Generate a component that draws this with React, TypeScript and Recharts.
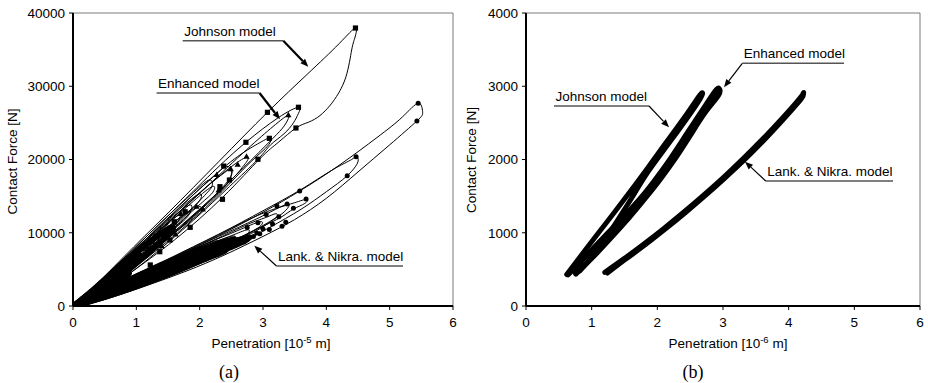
import React from 'react';
import { ComposedChart, Line, Scatter, XAxis, YAxis, ReferenceArea, ReferenceLine } from 'recharts';

type Pair = [number, number];

const SANS = '"Liberation Sans", Arial, Helvetica, sans-serif';
const SERIF = '"Liberation Serif", "Times New Roman", serif';

const xTicks = [0, 1, 2, 3, 4, 5, 6];
const yTicksA = [0, 10000, 20000, 30000, 40000];
const yTicksB = [0, 1000, 2000, 3000, 4000];

// (a) penetration [1e-5 m] vs contact force [N]; each loop = loading then unloading
const johnsonLoopsA: Pair[][] = [
  [[0, 0], [0.3, 2300], [0.8, 6700], [1.5, 12700], [2.3, 19700], [3.07, 26440], [3.7, 31650], [4.2, 35800], [4.46, 37950], [4.45, 36600], [4.4, 34950], [4.31, 31300], [4.16, 28600], [4.05, 27300], [3.9, 26000], [3.72, 25100], [3.52, 24300], [3.25, 22400], [2.95, 20100], [2.37, 14900], [1.6, 9000], [0.9, 4500], [0.4, 1600], [0, 0]],
  [[0, 0], [0.3, 2200], [0.8, 6500], [1.5, 12300], [2.2, 18200], [2.73, 22350], [3.24, 25700], [3.56, 27130], [3.56, 26300], [3.48, 25000], [3.33, 23500], [3.12, 22000], [2.92, 20030], [2.47, 16300], [1.9, 11700], [1.2, 6500], [0.6, 2700], [0, 0]],
  [[0, 0], [0.3, 2100], [0.8, 6300], [1.5, 11900], [2.1, 16800], [2.6, 20400], [2.95, 22300], [3.12, 23000], [3.11, 22300], [3.0, 21200], [2.75, 19200], [2.35, 15600], [1.8, 11100], [1.2, 6800], [0.6, 3000], [0, 0]],
  [[0, 0], [0.3, 2100], [0.8, 6200], [1.4, 11200], [1.9, 15200], [2.25, 17900], [2.42, 19050], [2.5, 18500], [2.47, 17200], [2.3, 15400], [1.9, 12200], [1.4, 8500], [0.8, 4600], [0.35, 1700], [0, 0]],
  [[0, 0], [0.3, 2150], [0.8, 6400], [1.4, 11500], [1.9, 15500], [2.15, 17200], [2.2, 16500], [2.1, 15300], [1.8, 12600], [1.3, 8600], [0.7, 4000], [0.3, 1400], [0, 0]],
  [[0, 0], [0.3, 2100], [0.8, 6300], [1.4, 11000], [1.8, 14100], [2.0, 15300], [2.02, 14700], [1.9, 13500], [1.6, 11200], [1.1, 7300], [0.6, 3400], [0.25, 1100], [0, 0]],
  [[0, 0], [0.3, 2000], [0.8, 6100], [1.3, 10100], [1.65, 12700], [1.85, 13800], [1.87, 13200], [1.8, 12300], [1.6, 10600], [1.2, 7600], [0.7, 4000], [0.3, 1400], [0, 0]],
  [[0, 0], [0.3, 2050], [0.8, 6200], [1.3, 10000], [1.65, 12300], [1.67, 11700], [1.55, 10700], [1.25, 8200], [0.85, 5000], [0.4, 1900], [0, 0]],
  [[0, 0], [0.3, 2000], [0.8, 6000], [1.2, 8900], [1.5, 10800], [1.52, 10200], [1.45, 9200], [1.2, 7200], [0.8, 4500], [0.4, 2000], [0, 0]],
  [[0, 0], [0.3, 2050], [0.8, 6000], [1.1, 8200], [1.35, 9800], [1.36, 9200], [1.25, 8300], [1.0, 6400], [0.65, 3800], [0.3, 1400], [0, 0]],
  [[0, 0], [0.3, 2000], [0.7, 5200], [1.0, 7300], [1.2, 8600], [1.22, 8000], [1.12, 7000], [0.85, 5000], [0.5, 2700], [0.2, 900], [0, 0]],
  [[0, 0], [0.3, 1900], [0.6, 4300], [0.95, 6800], [0.96, 6200], [0.8, 4900], [0.5, 2700], [0.2, 900], [0, 0]],
];

const enhancedLoopsA: Pair[][] = [
  [[0, 0], [0.3, 1900], [0.8, 5900], [1.5, 11400], [2.2, 17000], [2.8, 21800], [3.2, 24800], [3.4, 26070], [3.39, 25400], [3.3, 24200], [3.1, 22400], [2.8, 19800], [2.3, 15600], [1.7, 10800], [1.1, 6200], [0.5, 2300], [0, 0]],
  [[0, 0], [0.3, 1900], [0.8, 5800], [1.4, 10600], [2.0, 15400], [2.45, 18700], [2.74, 20330], [2.75, 19800], [2.68, 19000], [2.5, 17200], [2.1, 13900], [1.6, 10000], [1.0, 5700], [0.5, 2300], [0, 0]],
  [[0, 0], [0.3, 1900], [0.8, 5800], [1.4, 10500], [1.9, 14700], [2.3, 17600], [2.49, 18700], [2.51, 18100], [2.44, 17000], [2.2, 14800], [1.8, 11700], [1.3, 8000], [0.7, 3900], [0.3, 1300], [0, 0]],
  [[0, 0], [0.3, 1850], [0.8, 5700], [1.4, 10400], [1.9, 14300], [2.2, 16300], [2.22, 15700], [2.1, 14600], [1.8, 12300], [1.3, 8400], [0.7, 4000], [0.3, 1300], [0, 0]],
  [[0, 0], [0.3, 1800], [0.8, 5600], [1.3, 9400], [1.7, 12100], [1.99, 13560], [2.0, 13000], [1.9, 12000], [1.65, 10300], [1.2, 7200], [0.7, 3900], [0.3, 1300], [0, 0]],
  [[0, 0], [0.3, 1800], [0.8, 5600], [1.3, 9300], [1.8, 12800], [1.81, 12200], [1.65, 10900], [1.3, 8100], [0.8, 4500], [0.35, 1500], [0, 0]],
  [[0, 0], [0.3, 1800], [0.8, 5500], [1.25, 8900], [1.6, 11200], [1.61, 10600], [1.45, 9300], [1.1, 6900], [0.7, 4100], [0.3, 1400], [0, 0]],
  [[0, 0], [0.3, 1800], [0.8, 5400], [1.3, 9000], [1.31, 8400], [1.1, 6800], [0.7, 4000], [0.3, 1300], [0, 0]],
  [[0, 0], [0.3, 1800], [0.7, 4800], [1.15, 8000], [1.16, 7400], [0.95, 5800], [0.6, 3300], [0.25, 1100], [0, 0]],
  [[0, 0], [0.35, 2000], [0.7, 4600], [0.95, 6400], [0.96, 5800], [0.7, 4000], [0.4, 2000], [0, 0]],
];

const lankLoopsA: Pair[][] = [
  [[0, 0], [0.3, 900], [0.6, 2200], [0.95, 3900], [1.6, 6600], [2.3, 9600], [3.0, 12800], [3.58, 15700], [4.2, 19200], [4.8, 23000], [5.2, 25800], [5.45, 27670], [5.52, 26530], [5.43, 25260], [5.0, 22000], [4.5, 18300], [4.0, 14700], [3.5, 11800], [3.0, 9500], [2.4, 7000], [1.8, 4800], [1.2, 2900], [0.6, 1150], [0.2, 250], [0, 0]],
  [[0, 0], [0.3, 900], [0.8, 3200], [1.5, 6400], [2.3, 9800], [3.0, 13000], [3.6, 15900], [4.1, 18600], [4.4, 20000], [4.47, 20390], [4.5, 19700], [4.33, 17790], [4.0, 15600], [3.6, 13200], [3.1, 10700], [2.6, 8400], [2.0, 6000], [1.4, 3800], [0.8, 1900], [0.3, 500], [0, 0]],
  [[0, 0], [0.3, 900], [0.8, 3200], [1.5, 6300], [2.2, 9300], [2.8, 11900], [3.2, 13300], [3.5, 14100], [3.69, 14560], [3.66, 14000], [3.48, 13240], [3.3, 12200], [3.0, 10900], [2.5, 8800], [1.9, 6200], [1.3, 3900], [0.7, 1800], [0.3, 600], [0, 0]],
  [[0, 0], [0.3, 1100], [0.9, 3700], [1.6, 6700], [2.3, 9500], [2.9, 11900], [3.2, 13200], [3.39, 13930], [3.4, 13500], [3.3, 12600], [3.1, 11500], [2.8, 10000], [2.3, 7700], [1.7, 5200], [1.1, 3000], [0.5, 1100], [0, 0]],
  [[0, 0], [0.3, 1150], [0.9, 3750], [1.6, 6600], [2.3, 9300], [2.8, 11300], [3.05, 12100], [3.2, 12600], [3.22, 12200], [3.12, 11500], [2.9, 10300], [2.5, 8500], [2.0, 6300], [1.4, 4100], [0.8, 2100], [0.3, 600], [0, 0]],
  [[0, 0], [0.3, 1150], [0.9, 3700], [1.5, 6200], [2.1, 8500], [2.6, 10300], [2.95, 11500], [2.97, 11000], [2.85, 10300], [2.6, 9000], [2.2, 7200], [1.7, 5200], [1.1, 3100], [0.5, 1200], [0, 0]],
  [[0, 0], [0.3, 1200], [0.9, 3800], [1.5, 6200], [2.1, 8300], [2.5, 9600], [2.75, 10400], [2.77, 10000], [2.65, 9300], [2.4, 8200], [2.0, 6600], [1.5, 4700], [0.9, 2600], [0.4, 900], [0, 0]],
  [[0, 0], [0.3, 1200], [0.9, 3800], [1.5, 6100], [2.0, 7900], [2.5, 9500], [2.52, 9100], [2.4, 8400], [2.15, 7300], [1.7, 5600], [1.2, 3800], [0.7, 2000], [0.3, 700], [0, 0]],
  [[0, 0], [0.3, 1250], [0.9, 3900], [1.4, 5900], [1.9, 7700], [2.25, 8900], [2.27, 8500], [2.15, 7900], [1.9, 6800], [1.5, 5200], [1.0, 3400], [0.5, 1500], [0, 0]],
  [[0, 0], [0.3, 1200], [0.8, 3500], [1.3, 5500], [1.7, 7000], [2.0, 8000], [2.02, 7600], [1.9, 7000], [1.65, 6000], [1.3, 4600], [0.85, 2900], [0.4, 1200], [0, 0]],
  [[0, 0], [0.3, 1250], [0.8, 3500], [1.3, 5500], [1.75, 7100], [1.77, 6700], [1.65, 6100], [1.4, 5100], [1.0, 3600], [0.6, 2000], [0.25, 700], [0, 0]],
  [[0, 0], [0.3, 1300], [0.8, 3600], [1.2, 5100], [1.5, 6200], [1.52, 5800], [1.4, 5200], [1.15, 4200], [0.8, 2800], [0.4, 1300], [0, 0]],
  [[0, 0], [0.3, 1300], [0.7, 3100], [1.0, 4300], [1.25, 5100], [1.27, 4700], [1.15, 4200], [0.9, 3200], [0.6, 2000], [0.3, 900], [0, 0]],
  [[0, 0], [0.3, 1300], [0.65, 2800], [1.0, 4100], [1.01, 3700], [0.85, 3000], [0.6, 1900], [0.3, 800], [0, 0]],
  [[0, 0], [0.3, 1250], [0.55, 2300], [0.75, 3000], [0.76, 2700], [0.6, 2000], [0.35, 1000], [0, 0]],
];

// tightly packed low-amplitude loops that blacken the origin wedge and the Lank band
const denseLoopsA: Pair[][] = [
  [[0, 0], [0.3, 2100], [0.65, 4900], [0.9, 6700], [0.92, 6000], [0.75, 4300], [0.5, 2600], [0.2, 800], [0, 0]],
  [[0, 0], [0.35, 2200], [0.7, 4700], [1.0, 7000], [1.01, 6300], [0.85, 4700], [0.55, 2800], [0.2, 800], [0, 0]],
  [[0, 0], [0.3, 1500], [0.6, 3300], [0.85, 4500], [0.86, 4100], [0.6, 2700], [0.3, 1100], [0, 0]],
  [[0, 0], [0.4, 2700], [0.8, 5700], [1.2, 8600], [1.45, 10200], [1.47, 9600], [1.3, 8000], [0.95, 5400], [0.5, 2500], [0, 0]],
  [[0, 0], [0.5, 3600], [1.0, 7400], [1.3, 9400], [1.55, 10800], [1.57, 10200], [1.4, 8800], [1.05, 6400], [0.6, 3300], [0, 0]],
  [[0, 0], [0.4, 1700], [0.85, 3450], [1.37, 5600], [1.9, 7400], [2.4, 8850], [2.55, 9200], [2.5, 8700], [2.2, 7000], [1.8, 5300], [1.37, 3800], [0.9, 2300], [0.4, 900], [0, 0]],
  [[0, 0], [0.35, 1200], [0.8, 2900], [1.3, 4800], [1.8, 6500], [2.1, 7500], [2.15, 7200], [1.95, 6400], [1.6, 5100], [1.1, 3400], [0.6, 1700], [0.25, 600], [0, 0]],
  [[0, 0], [0.3, 1000], [0.7, 2500], [1.1, 4000], [1.5, 5500], [1.65, 5900], [1.6, 5500], [1.35, 4500], [1.0, 3200], [0.6, 1900], [0.25, 700], [0, 0]],
  [[0, 0], [0.45, 1500], [1.0, 3500], [1.6, 5700], [2.2, 7700], [2.7, 9300], [2.75, 9000], [2.5, 8000], [2.0, 6300], [1.4, 4300], [0.8, 2300], [0.3, 700], [0, 0]],
  [[0, 0], [0.4, 1300], [0.9, 3000], [1.4, 4700], [1.9, 6300], [2.35, 7800], [2.4, 7500], [2.1, 6400], [1.6, 4700], [1.1, 3000], [0.6, 1500], [0.2, 400], [0, 0]],
];

const johnsonMarksA: Pair[] = [
  [4.46, 37950], [3.07, 26440], [3.52, 24300], [3.56, 27130], [3.1, 22890], [2.73, 22350], [2.92, 20030],
  [2.38, 19100], [2.47, 17200], [2.36, 14570], [2.32, 16290], [1.77, 12870], [1.85, 10740], [1.48, 10150],
  [1.53, 9010], [1.22, 5600], [1.37, 7410], [1.1, 7900], [0.95, 6600], [1.3, 8300], [1.6, 11500],
  [0.15, 900], [0.3, 1900], [0.45, 3100], [0.6, 4200], [0.7, 5000], [0.5, 2900], [0.65, 3800], [0.82, 5900],
  [1.25, 9000], [1.42, 9700], [1.15, 7000], [1.0, 6200],
];

const enhancedMarksA: Pair[] = [
  [3.4, 26070], [2.74, 20390], [2.49, 18700], [1.95, 13560], [2.27, 17900], [2.3, 15800], [1.7, 12600],
  [1.5, 10600], [1.28, 9400], [1.05, 7200], [1.62, 9800], [2.05, 13200], [2.6, 19300], [1.4, 8200],
  [0.2, 1200], [0.35, 2100], [0.5, 3300], [0.62, 4500], [0.75, 4600], [0.88, 5200], [1.18, 7800], [1.35, 9900],
];

const lankMarksA: Pair[] = [
  [5.45, 27670], [5.43, 25260], [4.47, 20390], [4.33, 17790], [3.58, 15700], [3.68, 14600], [3.48, 13330],
  [3.38, 13930], [3.22, 13650], [3.36, 11430], [2.92, 11370], [3.05, 12500], [3.25, 12200], [3.15, 11200],
  [3.0, 10500], [2.75, 10700], [3.3, 10900],
  [0, 0], [0.12, 350], [0.22, 700], [0.3, 700], [0.45, 1350], [0.6, 1600], [0.75, 2150], [0.9, 2500],
  [1.05, 3050], [1.2, 3400], [1.35, 3950], [1.5, 4350], [1.65, 5000], [1.8, 5350], [1.95, 6000],
  [2.1, 6400], [2.25, 7100], [2.4, 7550], [2.55, 8250], [2.7, 8750], [2.85, 9500],
  [0.35, 1250], [0.5, 1800], [0.65, 2350], [0.8, 3050], [0.95, 3600], [1.1, 4350], [1.25, 4800],
  [1.4, 5500], [1.55, 5950], [1.7, 6600], [1.85, 6950], [2.0, 7550], [2.15, 7850], [2.3, 8350],
  [2.45, 8600], [2.6, 9050], [2.75, 9400], [2.9, 9950],
  [0.55, 1500], [0.7, 2300], [0.85, 2750], [1.0, 3450], [1.15, 3850], [1.3, 4500], [1.45, 4900],
  [1.6, 5550], [1.75, 5950], [1.9, 6550], [2.05, 6900], [2.2, 7500], [2.35, 7900], [2.5, 8450],
  [2.65, 8850], [2.8, 9400], [2.95, 9850], [3.1, 10450],
];

// (b) penetration [1e-6 m] vs contact force [N]
const johnsonLoopB: Pair[] = [
  [0.62, 430], [0.9, 760], [1.2, 1110], [1.5, 1460], [1.8, 1820], [2.1, 2190], [2.4, 2560], [2.6, 2820], [2.68, 2910],
  [2.66, 2840], [2.45, 2560], [2.15, 2190], [1.85, 1820], [1.6, 1460], [1.38, 1150], [1.12, 800], [0.82, 480],
];
const enhancedLoopB: Pair[] = [
  [0.64, 430], [0.9, 670], [1.2, 950], [1.5, 1230], [1.8, 1530], [2.0, 1760], [2.2, 2010], [2.45, 2350], [2.7, 2690], [2.88, 2930], [2.94, 2965],
  [2.93, 2880], [2.74, 2660], [2.5, 2330], [2.26, 2000], [2.05, 1740], [1.85, 1510], [1.58, 1220], [1.3, 940], [1.02, 670], [0.76, 440],
];
const lankLoopB: Pair[] = [
  [1.2, 460], [1.5, 650], [1.8, 850], [2.1, 1060], [2.4, 1280], [2.7, 1510], [3.0, 1750], [3.3, 2005], [3.6, 2275], [3.9, 2560], [4.2, 2870], [4.22, 2905],
  [4.2, 2840], [3.92, 2550], [3.62, 2260], [3.32, 1990], [3.02, 1740], [2.72, 1500], [2.42, 1270], [2.12, 1050], [1.82, 840], [1.52, 640], [1.24, 450],
];

type Callout = { text: string; x1: number; x2: number; y: number; fromEnd: boolean; tx: number; ty: number; w: number };

const calloutsA: Callout[] = [
  { text: 'Johnson model', x1: 1.732, x2: 3.32, y: 36220, fromEnd: true, tx: 3.715, ty: 32670, w: 2.2 },
  { text: 'Enhanced model', x1: 1.32, x2: 2.945, y: 29080, fromEnd: true, tx: 3.268, ty: 25490, w: 2.2 },
  { text: 'Lank. & Nikra. model', x1: 3.213, x2: 5.21, y: 5460, fromEnd: false, tx: 2.863, ty: 8230, w: 1.2 },
];
const calloutsB: Callout[] = [
  { text: 'Enhanced model', x1: 3.294, x2: 4.843, y: 3313, fromEnd: false, tx: 3.015, ty: 2986, w: 1.2 },
  { text: 'Johnson model', x1: 0.426, x2: 1.873, y: 2730, fromEnd: true, tx: 2.178, ty: 2440, w: 1.2 },
  { text: 'Lank. & Nikra. model', x1: 3.65, x2: 5.589, y: 1707, fromEnd: false, tx: 3.335, ty: 1970, w: 1.2 },
];

const toPts = (arr: Pair[]) => arr.map(([x, y]) => ({ x, y }));

const squareShape = (p: any) => <rect x={p.cx - 2.6} y={p.cy - 2.6} width={5.2} height={5.2} fill="#000" />;
const triangleShape = (p: any) => (
  <polygon points={`${p.cx},${p.cy - 3.4} ${p.cx + 3.1},${p.cy + 2.2} ${p.cx - 3.1},${p.cy + 2.2}`} fill="#000" />
);
const circleShape = (p: any) => <circle cx={p.cx} cy={p.cy} r={2.5} fill="#000" />;

const underlineShape = (text: string) => (p: any) => (
  <g>
    <line x1={p.x1} y1={p.y1} x2={p.x2} y2={p.y2} stroke="#555" strokeWidth={1.4} />
    <text x={p.x1 + 1.5} y={p.y1 - 5} fontFamily={SANS} fontSize={13.5} fill="#000">
      {text}
    </text>
  </g>
);

const arrowShape = (w: number) => (p: any) => {
  const ang = Math.atan2(p.y2 - p.y1, p.x2 - p.x1);
  const len = 8;
  const half = 3.2;
  const bx = p.x2 - len * Math.cos(ang);
  const by = p.y2 - len * Math.sin(ang);
  const nx = -Math.sin(ang) * half;
  const ny = Math.cos(ang) * half;
  return (
    <g>
      <line x1={p.x1} y1={p.y1} x2={bx} y2={by} stroke="#000" strokeWidth={w} />
      <polygon points={`${p.x2},${p.y2} ${bx + nx},${by + ny} ${bx - nx},${by - ny}`} fill="#000" />
    </g>
  );
};

interface PanelProps {
  left: number;
  yWidth: number;
  right: number;
  yMax: number;
  yTicks: number[];
  loops: { data: Pair[]; width: number }[];
  marks: { data: Pair[]; shape: (p: any) => React.ReactElement }[];
  callouts: Callout[];
}

function Panel({ left, yWidth, right, yMax, yTicks, loops, marks, callouts }: PanelProps) {
  const tick = { fontFamily: SANS, fontSize: 13.5, fill: '#000' };
  return (
    <div style={{ position: 'absolute', left, top: 0 }}>
      <ComposedChart width={464} height={383} margin={{ top: 13, right, bottom: 47, left: 0 }}>
        <XAxis
          type="number"
          dataKey="x"
          domain={[0, 6]}
          ticks={xTicks}
          interval={0}
          allowDataOverflow
          height={30}
          tickSize={4}
          tickMargin={7}
          tick={tick}
          axisLine={{ stroke: '#000', strokeWidth: 2 }}
          tickLine={{ stroke: '#000' }}
        />
        <YAxis
          type="number"
          dataKey="y"
          domain={[0, yMax]}
          ticks={yTicks}
          interval={0}
          allowDataOverflow
          width={yWidth}
          tickSize={4}
          tickMargin={4}
          tick={tick}
          axisLine={{ stroke: '#000', strokeWidth: 2 }}
          tickLine={{ stroke: '#000' }}
        />
        <ReferenceArea x1={0} x2={6} y1={0} y2={yMax} fill="none" stroke="#7a7a7a" strokeWidth={1} />
        {loops.map((l, i) => (
          <Line
            key={'l' + i}
            data={toPts(l.data)}
            dataKey="y"
            type="natural"
            stroke="#000"
            strokeWidth={l.width}
            strokeLinecap="round"
            strokeLinejoin="round"
            dot={false}
            activeDot={false}
            isAnimationActive={false}
          />
        ))}
        {marks.map((m, i) => (
          <Scatter key={'m' + i} data={toPts(m.data)} dataKey="y" shape={m.shape} isAnimationActive={false} />
        ))}
        {callouts.map((c, i) => (
          <ReferenceLine
            key={'u' + i}
            segment={[{ x: c.x1, y: c.y }, { x: c.x2, y: c.y }]}
            shape={underlineShape(c.text)}
            ifOverflow="visible"
          />
        ))}
        {callouts.map((c, i) => (
          <ReferenceLine
            key={'a' + i}
            segment={[{ x: c.fromEnd ? c.x2 : c.x1, y: c.y }, { x: c.tx, y: c.ty }]}
            shape={arrowShape(c.w)}
            ifOverflow="visible"
          />
        ))}
      </ComposedChart>
    </div>
  );
}

export default function App() {
  const loopsA = [
    ...denseLoopsA.map((d) => ({ data: d, width: 5 })),
    ...johnsonLoopsA.map((d) => ({ data: d, width: 1 })),
    ...enhancedLoopsA.map((d) => ({ data: d, width: 1 })),
    ...lankLoopsA.map((d) => ({ data: d, width: 1 })),
  ];
  const loopsB = [
    { data: johnsonLoopB, width: 5 },
    { data: enhancedLoopB, width: 5.5 },
    { data: lankLoopB, width: 5 },
  ];
  return (
    <div style={{ position: 'absolute', left: 0, top: 0, width: 928, height: 383, background: '#fff', overflow: 'hidden' }}>
      <Panel
        left={0}
        yWidth={73}
        right={11}
        yMax={40000}
        yTicks={yTicksA}
        loops={loopsA}
        marks={[
          { data: johnsonMarksA, shape: squareShape },
          { data: enhancedMarksA, shape: triangleShape },
          { data: lankMarksA, shape: circleShape },
        ]}
        callouts={calloutsA}
      />
      <Panel
        left={464}
        yWidth={62}
        right={8}
        yMax={4000}
        yTicks={yTicksB}
        loops={loopsB}
        marks={[]}
        callouts={calloutsB}
      />
      <svg width={928} height={383} style={{ position: 'absolute', left: 0, top: 0, pointerEvents: 'none' }}>
        <g fontFamily={SANS} fontSize={13.5} fill="#000">
          <text transform="rotate(-90 12 161.5)" x={12} y={161.5} textAnchor="middle" dominantBaseline="central">
            Contact Force [N]
          </text>
          <text x={271} y={347.5} textAnchor="middle">
            Penetration [10<tspan fontSize={9.5} dy={-5}>-5</tspan>
            <tspan dy={5}> m]</tspan>
          </text>
          <text transform="rotate(-90 471 160)" x={471} y={160} textAnchor="middle" dominantBaseline="central">
            Contact Force [N]
          </text>
          <text x={728} y={347.5} textAnchor="middle">
            Penetration [10<tspan fontSize={9.5} dy={-5}>-6</tspan>
            <tspan dy={5}> m]</tspan>
          </text>
        </g>
        <g fontFamily={SERIF} fontSize={18} fill="#000" textAnchor="middle">
          <text x={229} y={378}>(a)</text>
          <text x={693} y={378}>(b)</text>
        </g>
      </svg>
    </div>
  );
}
